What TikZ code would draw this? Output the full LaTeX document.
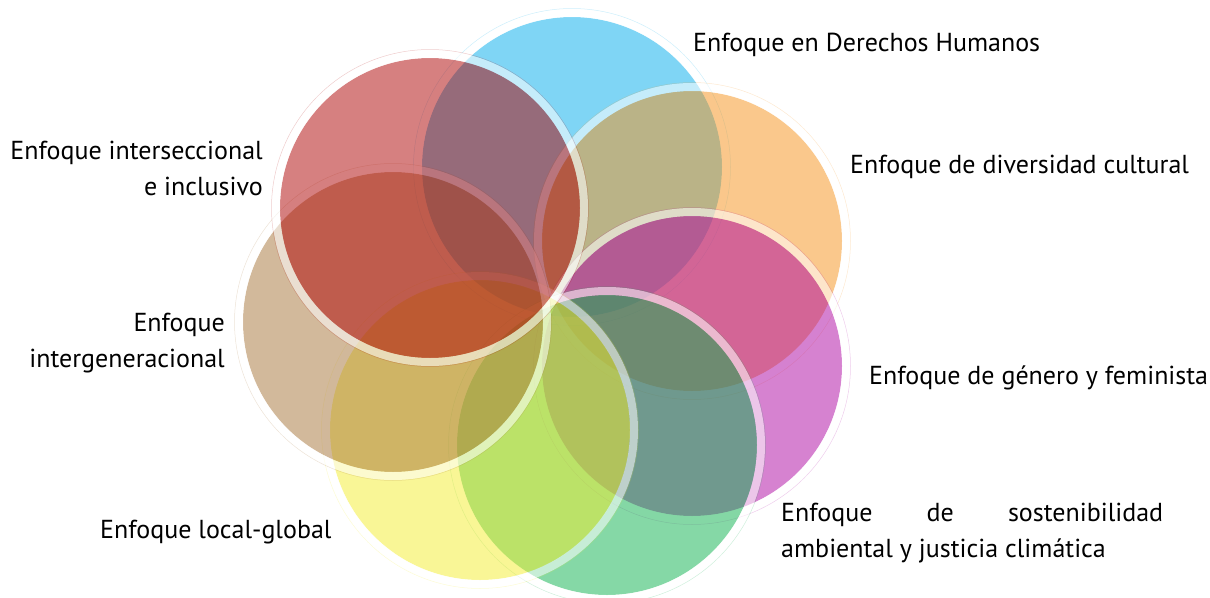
\documentclass[tikz,border=0pt]{standalone}
\usepackage{fontspec}
\setmainfont{PT Sans}
\definecolor{cblue}{RGB}{0,172,236}
\definecolor{corange}{RGB}{245,145,25}
\definecolor{cpink}{RGB}{173,5,161}
\definecolor{cgreen}{RGB}{11,177,77}
\definecolor{cyellow}{RGB}{243,237,45}
\definecolor{ctan}{RGB}{165,115,55}
\definecolor{cred}{RGB}{173,1,1}
\newcommand\petal[2]{%
  \fill[#2, fill opacity=0.5] (#1) circle[radius=150pt];
  \draw[white, draw opacity=0.55, line width=8pt] (#1) circle[radius=154pt];
  \draw[#2, draw opacity=0.2, line width=0.5pt] (#1) circle[radius=158.5pt];
}
\tikzset{lbl/.style={inner sep=0pt, font=\fontsize{26}{36}\selectfont, text=black}}
\begin{document}
\begin{tikzpicture}[x=1pt,y=-1pt]
\useasboundingbox (0,0) rectangle (1210,597);
\coordinate (cb) at (572,167);
\coordinate (co) at (692,241);
\coordinate (cp) at (692,366);
\coordinate (cg) at (607,445);
\coordinate (cy) at (480,430);
\coordinate (ct) at (393,322);
\coordinate (cr) at (430,208);
\petal{cb}{cblue}
\petal{co}{corange}
\petal{cp}{cpink}
\petal{cg}{cgreen}
\petal{cy}{cyellow}
\petal{ct}{ctan}
\petal{cr}{cred}
\node[lbl, anchor=west] (t1) at (693,45) {Enfoque en Derechos Humanos};
\node[lbl, anchor=west] (t2) at (850,167) {Enfoque de diversidad cultural};
\node[lbl, anchor=west] (t3) at (869,378) {Enfoque de género y feminista};
\node[lbl, anchor=west, align=left] (t4) at (781,533) {\makebox[382pt][s]{Enfoque de sostenibilidad}\\ambiental y justicia climática};
\node[lbl, anchor=west] (t5) at (100,532) {Enfoque local-global};
\node[lbl, anchor=east, align=right] (t6) at (225,343) {Enfoque\\intergeneracional};
\node[lbl, anchor=east, align=right] (t7) at (263,168) {Enfoque interseccional\\e inclusivo};
\end{tikzpicture}
\end{document}
